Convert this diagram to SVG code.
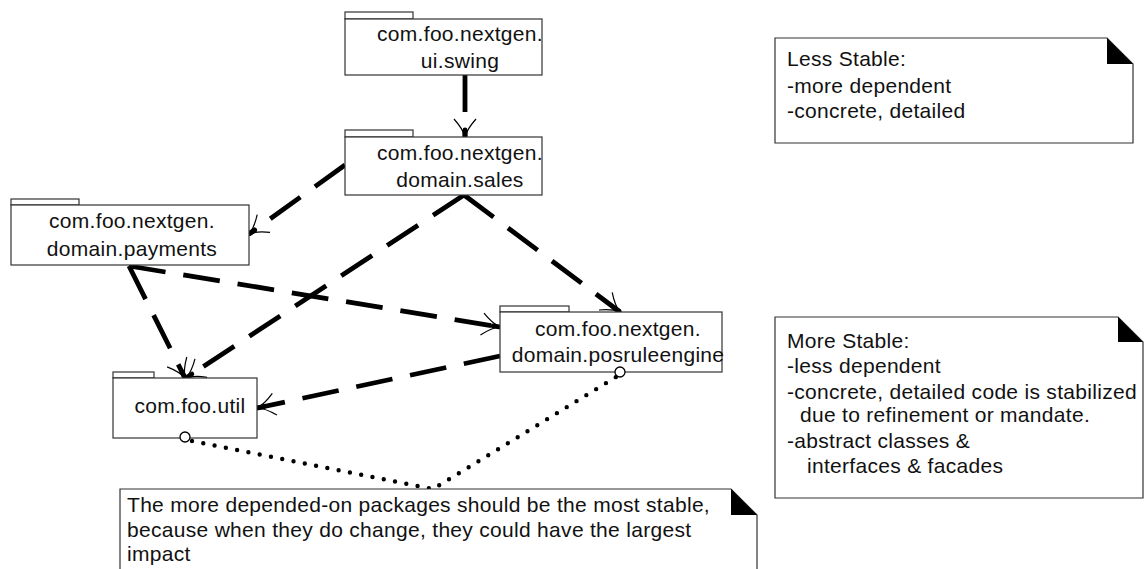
<svg xmlns="http://www.w3.org/2000/svg" width="1148" height="569" viewBox="0 0 1148 569">
<style>
.box{fill:#fff;stroke:#333;stroke-width:1.2}
.t{font-family:"Liberation Sans",Arial,sans-serif;font-size:21px;letter-spacing:0.3px;fill:#111}
.c{text-anchor:middle}
.dep{fill:none;stroke:#000;stroke-width:4.8;stroke-dasharray:37 18}
.dot{fill:none;stroke:#000;stroke-width:4.4;stroke-linecap:round;stroke-dasharray:0 11.5}
.ring{fill:#fff;stroke:#000;stroke-width:1.3}
</style>
<defs>
<marker id="arr" markerUnits="userSpaceOnUse" markerWidth="40" markerHeight="40" refX="0" refY="0" viewBox="-20 -20 40 40" orient="auto" overflow="visible">
<path d="M-18,-11 Q-8,-2 0,0 Q-8,2 -18,11" fill="none" stroke="#000" stroke-width="1.2"/>
<path d="M-7,0 L-1,0" stroke="#000" stroke-width="4.8" stroke-linecap="round"/>
</marker>
</defs>
<g id="connectors">
<line class="dep" x1="465" y1="75" x2="465" y2="137" marker-end="url(#arr)"/>
<line class="dep" x1="345" y1="165" x2="249" y2="234" marker-end="url(#arr)"/>
<line class="dep" x1="464" y1="195" x2="186" y2="378" marker-end="url(#arr)"/>
<line class="dep" x1="464" y1="195" x2="620" y2="312" marker-end="url(#arr)"/>
<line class="dep" x1="129" y1="266" x2="185" y2="378" marker-end="url(#arr)"/>
<line class="dep" x1="129" y1="266" x2="500" y2="327" marker-end="url(#arr)"/>
<line class="dep" x1="500" y1="356" x2="257" y2="408" marker-end="url(#arr)"/>
<path class="dot" d="M192,441 L433,489 L616,377"/>
</g>
<g id="ui-swing">
<rect class="box" x="345" y="12" width="68" height="7"/>
<rect class="box" x="345" y="19" width="197" height="56"/>
<text class="t c" x="460" y="41">com.foo.nextgen.</text>
<text class="t c" x="460" y="68">ui.swing</text>
</g>
<g id="domain-sales">
<rect class="box" x="345" y="130" width="68" height="7"/>
<rect class="box" x="345" y="137" width="197" height="58"/>
<text class="t c" x="460" y="160">com.foo.nextgen.</text>
<text class="t c" x="460" y="187">domain.sales</text>
</g>
<g id="domain-payments">
<rect class="box" x="11" y="199" width="68" height="6"/>
<rect class="box" x="11" y="205" width="238" height="60"/>
<text class="t c" x="132" y="228">com.foo.nextgen.</text>
<text class="t c" x="132" y="256">domain.payments</text>
</g>
<g id="domain-posruleengine">
<rect class="box" x="500" y="306" width="69" height="6"/>
<rect class="box" x="500" y="312" width="222" height="60"/>
<text class="t c" x="618" y="336">com.foo.nextgen.</text>
<text class="t c" x="618" y="362">domain.posruleengine</text>
<circle class="ring" cx="620" cy="372" r="5"/>
</g>
<g id="util">
<rect class="box" x="113" y="372" width="41" height="6"/>
<rect class="box" x="113" y="378" width="144" height="60"/>
<text class="t c" x="190" y="413">com.foo.util</text>
<circle class="ring" cx="185" cy="437" r="5"/>
</g>
<g id="note-less-stable">
<path class="box" d="M775,38 L1107,38 L1133,64 L1133,143 L775,143 Z"/>
<path d="M1107,38 L1133,64 L1107,64 Z" fill="#000"/>
<text class="t" x="787" y="66">Less Stable:</text>
<text class="t" x="787" y="93">-more dependent</text>
<text class="t" x="787" y="118">-concrete, detailed</text>
</g>
<g id="note-more-stable">
<path class="box" d="M775,317 L1118,317 L1143,342 L1143,498 L775,498 Z"/>
<path d="M1118,317 L1143,342 L1118,342 Z" fill="#000"/>
<text class="t" x="787" y="348">More Stable:</text>
<text class="t" x="787" y="373">-less dependent</text>
<text class="t" x="787" y="399">-concrete, detailed code is stabilized</text>
<text class="t" x="800" y="422">due to refinement or mandate.</text>
<text class="t" x="787" y="448">-abstract classes &amp;</text>
<text class="t" x="807" y="473">interfaces &amp; facades</text>
</g>
<g id="note-depended">
<path class="box" d="M120,489 L731,489 L757,515 L757,575 L120,575 Z"/>
<path d="M731,489 L757,515 L731,515 Z" fill="#000"/>
<text class="t" x="127" y="512">The more depended-on packages should be the most stable,</text>
<text class="t" x="127" y="537">because when they do change, they could have the largest</text>
<text class="t" x="127" y="561">impact</text>
</g>
</svg>
